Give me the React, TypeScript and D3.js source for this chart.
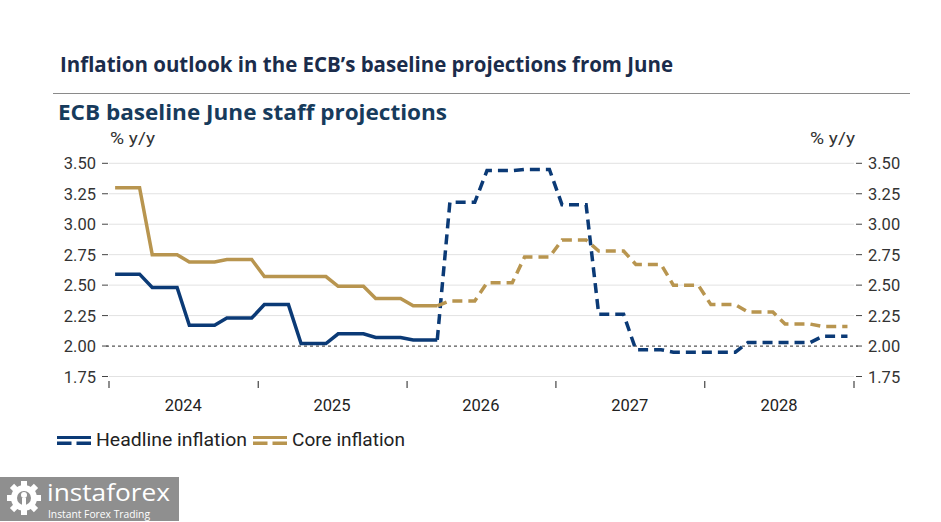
import React from "react";
import * as d3 from "d3";

const years = [2024, 2025, 2026, 2027, 2028];
const quarters = years.flatMap((y) => [1, 2, 3, 4].map((q) => ({ year: y, q })));
const headline = [2.59, 2.48, 2.17, 2.23, 2.34, 2.02, 2.1, 2.07, 2.05, 3.18, 3.44, 3.45, 3.16, 2.26, 1.97, 1.95, 1.95, 2.03, 2.03, 2.08];
const core = [3.3, 2.75, 2.69, 2.71, 2.57, 2.57, 2.49, 2.39, 2.33, 2.37, 2.52, 2.73, 2.87, 2.78, 2.67, 2.5, 2.34, 2.28, 2.18, 2.16];
const lastActualIndex = 8; // Q1 2026
const yTicks = [1.75, 2.0, 2.25, 2.5, 2.75, 3.0, 3.25, 3.5];

const NAVY = "#0b3a76";
const GOLD = "#b8954f";
const FONT = "Roboto, 'Noto Sans', sans-serif";
const WFONT = "'Open Sans', Roboto, sans-serif";

type Pt = { date: Date; v: number };

function toPoints(vals: number[]): Pt[] {
  const pts: Pt[] = [];
  quarters.forEach((qq, i) => {
    const m0 = (qq.q - 1) * 3;
    pts.push({ date: new Date(qq.year, m0, 16), v: vals[i] });
    pts.push({ date: new Date(qq.year, m0 + 2, 16), v: vals[i] });
  });
  return pts;
}

export default function App() {
  const x = d3.scaleTime().domain([new Date(2024, 0, 1), new Date(2029, 0, 1)]).range([109, 854]);
  const y = d3.scaleLinear().domain([1.75, 3.5]).range([376.5, 163.3]);
  const line = d3
    .line<Pt>()
    .x((d) => x(d.date))
    .y((d) => y(d.v));

  const split = lastActualIndex * 2 + 2; // number of solid points
  const series = [
    { pts: toPoints(headline), color: NAVY },
    { pts: toPoints(core), color: GOLD },
  ];
  const yearTicks = d3.range(2024, 2030).map((yr) => new Date(yr, 0, 1));

  return (
    <svg width={941} height={522} style={{ position: "absolute", left: 0, top: 0, background: "#fff" }} fontFamily={FONT}>
      <rect x={0} y={0} width={941} height={522} fill="#fff" />
      <text x={60} y={72} fontSize={20.5} fontWeight={700} fill="#1b2c4b" fontFamily={WFONT} textLength={613} lengthAdjust="spacingAndGlyphs">
        Inflation outlook in the ECB’s baseline projections from June
      </text>
      <line x1={53} x2={910} y1={93.5} y2={93.5} stroke="#8a8a8a" strokeWidth={1.2} />
      <text x={58} y={120} fontSize={22} fontWeight={700} fill="#173b5c" fontFamily={WFONT} textLength={389} lengthAdjust="spacingAndGlyphs">
        ECB baseline June staff projections
      </text>
      <text x={110} y={144} fontSize={17} fill="#333" textLength={45} lengthAdjust="spacingAndGlyphs">% y/y</text>
      <text x={810} y={144} fontSize={17} fill="#333" textLength={45} lengthAdjust="spacingAndGlyphs">% y/y</text>

      {yTicks.map((t) => (
        <g key={t}>
          {t !== 2 && <line x1={109} x2={854} y1={y(t)} y2={y(t)} stroke="#e2e2e2" strokeWidth={1} />}
          <line x1={102} x2={108} y1={y(t)} y2={y(t)} stroke="#444" strokeWidth={1} />
          <line x1={856} x2={862} y1={y(t)} y2={y(t)} stroke="#444" strokeWidth={1} />
          <text x={96} y={y(t) + 6} fontSize={16.5} fill="#333" textAnchor="end">{t.toFixed(2)}</text>
          <text x={868} y={y(t) + 6} fontSize={16.5} fill="#333">{t.toFixed(2)}</text>
        </g>
      ))}
      <line x1={106} x2={858} y1={y(2)} y2={y(2)} stroke="#555" strokeWidth={1.2} strokeDasharray="3,3" />

      {yearTicks.map((d, i) => (
        <line key={i} x1={x(d)} x2={x(d)} y1={381} y2={388} stroke="#444" strokeWidth={1.2} />
      ))}
      {years.map((yr) => (
        <text key={yr} x={x(new Date(yr, 6, 1))} y={411} fontSize={16.5} fill="#222" textAnchor="middle">{yr}</text>
      ))}

      {series.map((s, i) => (
        <g key={i}>
          <path d={line(s.pts.slice(0, split)) || ""} fill="none" stroke={s.color} strokeWidth={3.5} />
          <path d={line(s.pts.slice(split - 1)) || ""} fill="none" stroke={s.color} strokeWidth={3.5} strokeDasharray="10,6" />
        </g>
      ))}

      {/* legend */}
      {[
        { label: "Headline inflation", color: NAVY, x0: 57, w: 151 },
        { label: "Core inflation", color: GOLD, x0: 253, w: 113 },
      ].map((l) => (
        <g key={l.label}>
          <rect x={l.x0} y={436} width={34} height={3} fill={l.color} />
          <rect x={l.x0} y={441.5} width={14.5} height={3.5} fill={l.color} />
          <rect x={l.x0 + 19.5} y={441.5} width={14.5} height={3.5} fill={l.color} />
          <text x={l.x0 + 39} y={446} fontSize={17.5} fill="#222" textLength={l.w} lengthAdjust="spacingAndGlyphs">{l.label}</text>
        </g>
      ))}

      {/* watermark */}
      <g>
        <rect x={0} y={477} width={179} height={44} fill="#8f8f8f" />
        <g transform="translate(24,498)" fill="#fff">
          <circle r={13} fill="#fff" />
          <circle r={7} fill="#8f8f8f" />
          {d3.range(8).map((k) => (
            <rect key={k} x={-3} y={-17} width={6} height={6} transform={`rotate(${k * 45})`} />
          ))}
          <circle cx={0} cy={-3} r={3} fill="#fff" />
          <rect x={-2} y={0} width={4} height={12} fill="#fff" />
        </g>
        <text x={47} y={501} fontSize={24} fill="#fff" fontFamily={WFONT} textLength={123} lengthAdjust="spacingAndGlyphs">instaforex</text>
        <text x={48} y={518} fontSize={10} fill="#fff" fontFamily={WFONT} textLength={102} lengthAdjust="spacingAndGlyphs">Instant Forex Trading</text>
      </g>
    </svg>
  );
}
